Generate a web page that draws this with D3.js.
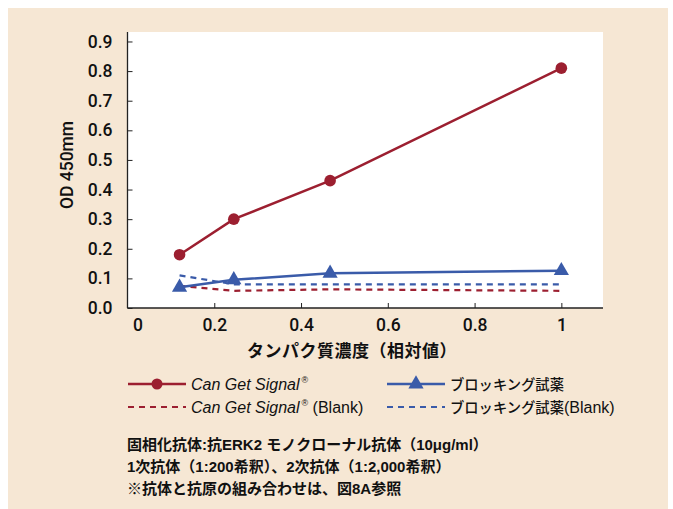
<!DOCTYPE html>
<html>
<head>
<meta charset="utf-8">
<script src="https://cdn.jsdelivr.net/npm/d3@7"></script>
<style>
  body { margin: 0; background: #fff; }
  text { font-family: "Liberation Sans", Arial, "Noto Sans CJK JP", sans-serif; }
  .num { font-family: Roboto, "Liberation Sans", sans-serif; font-weight: 500; }
  .jp { font-family: "Noto Sans CJK JP", sans-serif; font-weight: bold; }
</style>
</head>
<body>
<div id="chart"></div>
<script>
var width = 673;
var height = 509;

// data
var xVals = [0.12, 0.245, 0.467, 1];
var canGet = [0.18, 0.30, 0.43, 0.81];
var blocking = [0.07, 0.095, 0.117, 0.126];
var canGetBlank = [0.075, 0.058, 0.063, 0.058];
var blockingBlank = [0.11, 0.08, 0.08, 0.08];
var xTicks = [0, 0.2, 0.4, 0.6, 0.8, 1];
var yTicks = [0, 0.1, 0.2, 0.3, 0.4, 0.5, 0.6, 0.7, 0.8, 0.9];
var notes = [
    "固相化抗体:抗ERK2 モノクローナル抗体（10μg/ml）",
    "1次抗体（1:200希釈）、2次抗体（1:2,000希釈）",
    "※抗体と抗原の組み合わせは、図8A参照"
];

var red = "#9c1f30";
var blue = "#3a5ba9";

var svg = d3.select("#chart")
    .append("svg")
    .attr("width", width)
    .attr("height", height)

svg.append("rect")
    .attr("x", 8).attr("y", 8)
    .attr("width", 660).attr("height", 501)
    .attr("fill", "#f6e7d4")

var plot = { left: 127.5, right: 603, top: 32, bottom: 308 };

var x = d3.scaleLinear().domain([0, 1.096]).range([plot.left, plot.right]);
var y = d3.scaleLinear().domain([0, 0.932]).range([plot.bottom, plot.top]);

svg.append("rect")
    .attr("x", plot.left).attr("y", plot.top)
    .attr("width", plot.right - plot.left)
    .attr("height", plot.bottom - plot.top)
    .attr("fill", "white")

// axes
var yAxis = svg.append("g")
    .attr("transform", "translate(" + plot.left + ",0)")
    .call(d3.axisRight(y).tickValues(yTicks).tickSize(5).tickFormat(d3.format(".1f")))
yAxis.select(".domain").attr("d", "M0," + plot.top + "V" + plot.bottom).attr("stroke", "#222").attr("stroke-width", 1.3)
yAxis.selectAll(".tick line").attr("stroke", "#222")
yAxis.selectAll(".tick text")
    .attr("class", "num")
    .attr("x", -15).attr("text-anchor", "end")
    .attr("font-size", 17.5).attr("fill", "#111")

var xAxis = svg.append("g")
    .attr("transform", "translate(0," + plot.bottom + ")")
    .call(d3.axisTop(x).tickValues(xTicks).tickSize(5).tickFormat(d3.format("")))
xAxis.select(".domain").attr("d", "M" + plot.left + ",0H" + plot.right).attr("stroke", "#222").attr("stroke-width", 1.3)
xAxis.selectAll(".tick line").attr("stroke", "#222")
    .attr("display", function(d) { return d === 0 ? "none" : null })
xAxis.selectAll(".tick text")
    .attr("class", "num")
    .attr("y", 23).attr("dy", 0)
    .attr("dx", function(d) { return d === 0 ? 10 : 0 })
    .attr("font-size", 17.5).attr("fill", "#111")

svg.append("text")
    .attr("class", "num")
    .attr("transform", "translate(73,165) rotate(-90)")
    .attr("text-anchor", "middle")
    .attr("font-size", 17.5).attr("fill", "#111")
    .text("OD 450mm")

svg.append("text")
    .attr("class", "jp")
    .attr("x", 352).attr("y", 357)
    .attr("text-anchor", "middle")
    .attr("font-size", 17).attr("letter-spacing", 0.5).attr("fill", "#111")
    .text("タンパク質濃度（相対値）")

// series
var line = d3.line()
    .x(function(d) { return x(d[0]) })
    .y(function(d) { return y(d[1]) });

function pairs(vals) {
    return xVals.map(function(v, i) { return [v, vals[i]] });
}

var series = [
    { vals: canGetBlank, color: red, dash: "6,5", width: 2.2 },
    { vals: blockingBlank, color: blue, dash: "6,5", width: 2.2 },
    { vals: blocking, color: blue, dash: null, width: 2.5, marker: "triangle" },
    { vals: canGet, color: red, dash: null, width: 2.5, marker: "circle" }
];

var triangle = d3.symbol().type(d3.symbolTriangle).size(100);

series.forEach(function(s) {
    svg.append("path")
        .attr("d", line(pairs(s.vals)))
        .attr("fill", "none")
        .attr("stroke", s.color)
        .attr("stroke-width", s.width)
        .attr("stroke-dasharray", s.dash)
    if (s.marker === "circle") {
        svg.selectAll(null).data(pairs(s.vals)).enter().append("circle")
            .attr("cx", function(d) { return x(d[0]) })
            .attr("cy", function(d) { return y(d[1]) })
            .attr("r", 5.8)
            .attr("fill", s.color)
    } else if (s.marker === "triangle") {
        svg.selectAll(null).data(pairs(s.vals)).enter().append("path")
            .attr("d", triangle)
            .attr("transform", function(d) { return "translate(" + x(d[0]) + "," + y(d[1]) + ")" })
            .attr("fill", s.color)
    }
});

// legend
var legend = [
    { lx: 128, ly: 384, color: red, dash: null, marker: "circle", label: "Can Get Signal", reg: true, extra: "" },
    { lx: 387, ly: 384, color: blue, dash: null, marker: "triangle", label: "ブロッキング試薬", reg: false, extra: "" },
    { lx: 128, ly: 407, color: red, dash: "6,5", label: "Can Get Signal", reg: true, extra: " (Blank)" },
    { lx: 387, ly: 407, color: blue, dash: "6,5", label: "ブロッキング試薬", reg: false, extra: "(Blank)" }
];

legend.forEach(function(l) {
    var g = svg.append("g").attr("transform", "translate(" + l.lx + "," + l.ly + ")");
    g.append("line")
        .attr("x1", 0).attr("x2", 58)
        .attr("stroke", l.color).attr("stroke-width", l.dash ? 2.2 : 2.5)
        .attr("stroke-dasharray", l.dash)
    if (l.marker === "circle") {
        g.append("circle").attr("cx", 29).attr("r", 5.5).attr("fill", l.color)
    } else if (l.marker === "triangle") {
        g.append("path").attr("d", triangle).attr("transform", "translate(29,0)").attr("fill", l.color)
    }
    var t = g.append("text").attr("x", 63).attr("y", 6).attr("font-size", 16).attr("fill", "#111")
    if (l.reg) {
        t.append("tspan").attr("font-style", "italic").text(l.label)
        t.append("tspan").attr("font-size", 9).attr("dy", -7).attr("dx", 2).text("®")
        if (l.extra) t.append("tspan").attr("dy", 7).text(l.extra)
    } else {
        t.append("tspan")
            .attr("font-family", "'Noto Sans CJK JP', sans-serif")
            .attr("font-weight", 500)
            .attr("font-size", 14.3)
            .text(l.label)
        if (l.extra) t.append("tspan").text(l.extra)
    }
});

// notes
svg.selectAll(".note").data(notes).enter().append("text")
    .attr("class", "note")
    .attr("x", 127)
    .attr("y", function(d, i) { return 450 + i * 22 })
    .attr("font-size", 15).attr("font-weight", "bold").attr("fill", "#111")
    .text(function(d) { return d })
</script>
</body>
</html>
